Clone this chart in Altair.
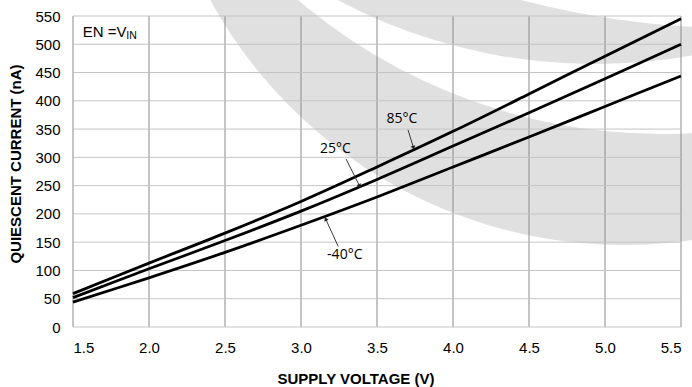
import math
import altair as alt
import pandas as pd

# Quiescent current vs. supply voltage, EN = VIN
voltage = [1.5, 2.0, 2.5, 3.0, 3.5, 4.0, 4.5, 5.0, 5.5]
iq_85c = [59, 113, 166, 222, 283, 346, 412, 479, 545]
iq_25c = [52, 103, 153, 205, 261, 320, 379, 439, 500]
iq_m40c = [44, 87, 132, 180, 230, 283, 336, 390, 444]

x_ticks = [1.5, 2.0, 2.5, 3.0, 3.5, 4.0, 4.5, 5.0, 5.5]
y_ticks = [0, 50, 100, 150, 200, 250, 300, 350, 400, 450, 500, 550]

# curve labels: text position, arrow tail and arrow tip (V, nA)
label_text = ["85°C", "25°C", "-40°C"]
label_x = [3.664, 3.227, 3.288]
label_y = [367.5, 315.0, 127.7]
arrow_x1 = [3.704, 3.296, 3.245]
arrow_y1 = [348.6, 297.3, 142.4]
arrow_x2 = [3.739, 3.384, 3.164]
arrow_y2 = [318.0, 250.2, 190.0]

W, H = 608, 311
PX_PER_V = W / (x_ticks[-1] - x_ticks[0])
PX_PER_NA = H / (y_ticks[-1] - y_ticks[0])

curves = pd.DataFrame({
    "V": voltage * 3,
    "I": iq_85c + iq_25c + iq_m40c,
    "T": ["85"] * len(voltage) + ["25"] * len(voltage) + ["-40"] * len(voltage),
})

arrows = pd.DataFrame({
    "x1": arrow_x1, "y1": arrow_y1, "x2": arrow_x2, "y2": arrow_y2,
})
arrows["angle"] = [
    math.degrees(math.atan2((b - a) * PX_PER_V, (d - c) * PX_PER_NA)) % 360
    for a, b, c, d in zip(arrow_x1, arrow_x2, arrow_y1, arrow_y2)
]
labels = pd.DataFrame({"txt": label_text, "x": label_x, "y": label_y})

# faint background logo: two crescents, each a grey disc cut by a white disc
# (pixel geometry relative to the plot origin, drawn in this order)
logo_cx = [551, 589, 522, 666]
logo_cy = [-243, -443, -502, -850]
logo_r = [472, 561, 550, 862]
logo_fill = ["#e0e0e0", "#ffffff", "#e0e0e0", "#ffffff"]

FONT = "Liberation Sans"

xs = alt.Scale(domain=[1.5, 5.5], nice=False, zero=False)
ys = alt.Scale(domain=[0, 550], nice=False)

x_axis = alt.Axis(
    values=x_ticks, format=".1f", grid=False, domain=False, ticks=False,
    tickSize=0, labelPadding=25, labelBaseline="alphabetic",
    labelOverlap=False, labelFont=FONT, labelFontSize=15, labelColor="black",
    title="SUPPLY VOLTAGE (V)", titleFont=FONT, titleFontSize=15,
    titleFontWeight="bold", titleColor="black", titleX=282.5, titleY=56,
    titleBaseline="alphabetic", titleAlign="center",
)
y_axis = alt.Axis(
    values=y_ticks, format="d", grid=False, domain=False, ticks=False, tickSize=0,
    labelPadding=13, labelOverlap=False, labelFont=FONT, labelFontSize=15,
    labelColor="black",
    title="QUIESCENT CURRENT (nA)", titleFont=FONT, titleFontSize=15,
    titleFontWeight="bold", titleColor="black", titleAngle=270,
    titleX=-52.6, titleY=147.5, titleBaseline="alphabetic", titleAlign="center",
)


def X(field):
    return alt.X(field, type="quantitative", scale=xs, axis=x_axis)


def Y(field):
    return alt.Y(field, type="quantitative", scale=ys, axis=y_axis)


logo_layers = [
    alt.Chart().mark_arc(theta=0, theta2=6.2832).encode(
        x=alt.value(cx), y=alt.value(cy), radius=alt.value(r), fill=alt.value(f)
    )
    for cx, cy, r, f in zip(logo_cx, logo_cy, logo_r, logo_fill)
]

vgrid = alt.Chart(pd.DataFrame({"v": x_ticks})).mark_rule(
    color="#8a8a8a", strokeWidth=1
).encode(x=X("v"))

hgrid = alt.Chart(pd.DataFrame({"i": y_ticks})).mark_rule(
    color="#c4c4c4", strokeWidth=1
).encode(y=Y("i"))

lines = alt.Chart(curves).mark_line(
    color="black", strokeWidth=2.8, interpolate="catmull-rom"
).encode(x=X("V"), y=Y("I"), detail="T:N")

shafts = alt.Chart(arrows).mark_rule(color="#3a3a3a", strokeWidth=1).encode(
    x=X("x1"), y=Y("y1"), x2="x2:Q", y2="y2:Q",
)
heads = alt.Chart(arrows).mark_point(
    shape="triangle", filled=True, color="#222222", size=22, opacity=1
).encode(x=X("x2"), y=Y("y2"), angle=alt.Angle("angle:Q", scale=None))

curve_labels = alt.Chart(labels).mark_text(
    font="Open Sans", fontSize=14, color="black", align="center", baseline="middle"
).encode(x=X("x"), y=Y("y"), text="txt:N")

en_main = alt.Chart(pd.DataFrame({"x": [1.564], "y": [512.4], "t": ["EN =V"]})).mark_text(
    font=FONT, fontSize=15, color="black", align="left", baseline="alphabetic"
).encode(x=X("x"), y=Y("y"), text="t:N")
en_sub = alt.Chart(pd.DataFrame({"x": [1.851], "y": [508.8], "t": ["IN"]})).mark_text(
    font=FONT, fontSize=10.5, color="black", align="left", baseline="alphabetic"
).encode(x=X("x"), y=Y("y"), text="t:N")

chart = alt.layer(
    *logo_layers, vgrid, hgrid, lines, shafts, heads, curve_labels, en_main, en_sub
).properties(
    width=W, height=H,
    autosize=alt.AutoSizeParams(type="none"),
    padding={"left": 73, "top": 16, "right": 11, "bottom": 60},
    background="white",
).configure_view(stroke=None)

chart.save("out.html", embed_options={"renderer": "svg", "actions": False})
